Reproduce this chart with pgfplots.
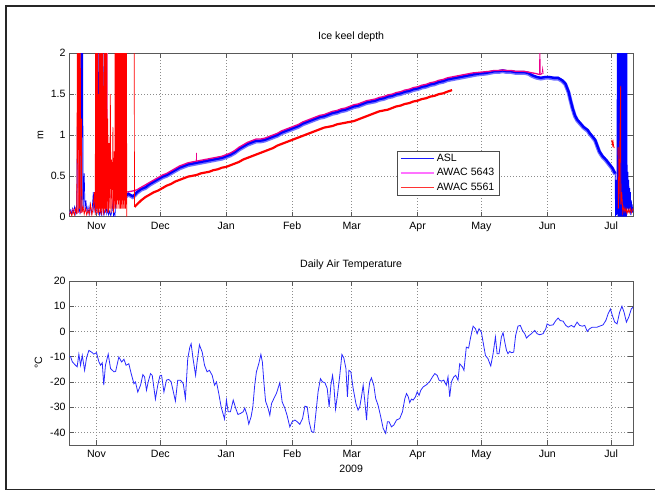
\documentclass[border=0pt]{standalone}
\usepackage{pgfplots}
\pgfplotsset{compat=1.18}
\usepackage{fontspec}
\setmainfont{Liberation Sans}
\definecolor{tblue}{rgb}{0.16,0.16,1}
\definecolor{legblue}{rgb}{0.1,0.1,1}
\definecolor{legmag}{rgb}{1,0.45,1}
\definecolor{legred}{rgb}{1,0.2,0.2}
\begin{document}
\fontsize{10.6bp}{12.5bp}\selectfont
\begin{tikzpicture}
\useasboundingbox (0,0) rectangle (655bp,491bp);
\fill[white] (0,0) rectangle (655bp,491bp);
\draw[black!85, line width=1.6bp] (657bp,485bp) -- (6bp,485bp) -- (6bp,1.5bp) -- (657bp,1.5bp);
\pgfplotsset{
 common/.style={
  scale only axis, width=563.7bp, xmin=-73.8, xmax=191.3,
  xtick={-61,-31,0,31,59,90,120,151,181},
  xticklabels={Nov,Dec,Jan,Feb,Mar,Apr,May,Jun,Jul},
  /pgf/number format/assume math mode=true,
  grid=major,
  major grid style={black!45, dash pattern=on 1bp off 2bp, line width=0.6bp},
  axis line style={black!65, line width=0.8bp},
  major tick length=5bp, tick style={black!65, line width=0.6bp},
  tick align=inside,
  unbounded coords=jump,
  xticklabel style={anchor=base, yshift=-12.8bp},
  title style={at={(0.5,1)}, anchor=base, yshift=7.8bp},
 }
}
% ---------------- top axis ----------------
\begin{axis}[common, at={(69.3bp,274.3bp)}, anchor=south west, height=163.4bp,
  ymin=0, ymax=2, ytick={0,0.5,1,1.5,2}, yticklabels={0,0.5,1,1.5,2},
  title={Ice keel depth},
  ylabel={m}, ylabel style={at={(axis description cs:-0.0511,0.5)}, anchor=center},
  legend style={at={(axis description cs:0.581,0.404)}, anchor=north west,
    draw=black!70, fill=white, inner xsep=3bp, inner ysep=1.5bp,
    row sep=1.2bp, cells={anchor=west}},
]
% ASL early noise and spikes
\addplot[blue, line width=0.7bp,
  legend image code/.code={\draw[draw=legblue, line width=0.8bp] (0bp,0bp) -- (33bp,0bp);}] coordinates {
(-73.8,0.02) (-73.3,0.08) (-72.8,0.03) (-72.3,0.10) (-71.8,0.05) (-71.3,0.12)
(-70.8,0.04) (-70.3,0.15) (-70.0,1.15) (-69.7,0.06) (-69.2,0.10) (-68.7,0.03)
(-68.3,3) (-68.0,0.05) (-67.6,3) (-67.3,0.10) (-66.8,0.53) (-66.4,0.08)
(-66.0,0.20) (-65.5,0.05) (-65.0,0.12) (-64.5,0.03) (-64.0,0.15) (-63.5,0.04)
(-63.0,0.10) (-62.5,0.3) (-62.2,0.05) (-61.8,0.2) (-61.4,0.06) (-61.0,3)
(-60.8,0.03) (-60.2,3) (-60.0,0.10) (-59.5,0.02) (-59.0,0.08) (-58.5,0.01) (-58.0,3)
(-57.7,0.06) (-57.5,0.02) (-57.0,0.09) (-56.5,0.2) (-56.2,0.04) (-55.8,0.08)
(-55.3,0.02) (-54.8,0.07) (-54.3,0.01) (-53.8,0.06) (-53.3,0.2) (-53.0,0.02)
(-52.8,0.05) (-52.3,0.01) (-51.8,0.30) (-51.5,0.25)
};
\addlegendentry{ASL}
% ASL main trend (fringe + core)
\addplot[forget plot, blue!55, line width=3.8bp] coordinates {
(-51.5,0.24) (-50,0.26) (-48,0.23) (-46,0.27) (-44,0.24) (-43,0.26) (-42,0.29)
(-40,0.33) (-38,0.35) (-36,0.39) (-34,0.42) (-32,0.45) (-30,0.48) (-28,0.50)
(-26,0.53) (-24,0.56) (-22,0.59) (-20,0.61) (-18,0.63) (-16,0.64) (-14,0.65)
(-12,0.66) (-10,0.67) (-8,0.68) (-6,0.69) (-4,0.70) (-2,0.71) (0,0.73) (2,0.75)
(4,0.78) (6,0.82) (8,0.85) (10,0.88) (12,0.90) (14,0.92) (16,0.92) (18,0.93)
(20,0.95) (22,0.97) (24,0.99) (26,1.02) (28,1.04) (30,1.06) (32,1.08) (34,1.10)
(36,1.13) (38,1.15) (40,1.17) (42,1.19) (44,1.21) (46,1.22) (48,1.24) (50,1.26)
(52,1.27) (54,1.29) (56,1.30) (58,1.32) (60,1.34) (62,1.35) (64,1.37) (66,1.39)
(68,1.40) (70,1.41) (72,1.43) (74,1.44) (76,1.46) (78,1.47) (80,1.49) (82,1.50)
(84,1.52) (86,1.53) (88,1.55) (90,1.56) (92,1.58) (94,1.59) (96,1.61) (98,1.62)
(100,1.64) (102,1.65) (104,1.67) (106,1.68) (108,1.69) (110,1.70) (112,1.71)
(114,1.72) (116,1.73) (118,1.74) (120,1.745) (122,1.75) (124,1.76) (126,1.77)
(128,1.77) (130,1.78) (132,1.77) (134,1.77) (136,1.76) (138,1.76) (140,1.76)
(142,1.75) (144,1.72) (146,1.70) (148,1.69) (150,1.70) (152,1.70) (154,1.69)
(156,1.69) (158,1.66) (159.5,1.62) (161,1.52) (162,1.41) (163,1.31) (164,1.23)
(165,1.18) (166,1.15) (168,1.09) (170,1.05) (171,1.01) (172,0.98) (173.5,0.93)
(174.5,0.86) (175.5,0.79) (177,0.73) (178.5,0.69) (180,0.64) (181.5,0.59) (182.9,0.52)
};
\addplot[forget plot, blue, line width=2.4bp] coordinates {
(-51.5,0.25) (-50,0.27) (-48,0.24) (-46,0.28) (-44,0.25) (-43,0.27) (-42,0.30)
(-40,0.34) (-38,0.36) (-36,0.40) (-34,0.43) (-32,0.46) (-30,0.49) (-28,0.51)
(-26,0.54) (-24,0.57) (-22,0.60) (-20,0.62) (-18,0.64) (-16,0.65) (-14,0.66)
(-12,0.67) (-10,0.68) (-8,0.69) (-6,0.70) (-4,0.71) (-2,0.72) (0,0.74) (2,0.76)
(4,0.79) (6,0.83) (8,0.86) (10,0.89) (12,0.91) (14,0.93) (16,0.93) (18,0.94)
(20,0.96) (22,0.98) (24,1.00) (26,1.03) (28,1.05) (30,1.07) (32,1.09) (34,1.11)
(36,1.14) (38,1.16) (40,1.18) (42,1.20) (44,1.22) (46,1.23) (48,1.25) (50,1.27)
(52,1.28) (54,1.30) (56,1.31) (58,1.33) (60,1.35) (62,1.36) (64,1.38) (66,1.40)
(68,1.41) (70,1.42) (72,1.44) (74,1.45) (76,1.47) (78,1.48) (80,1.50) (82,1.51)
(84,1.53) (86,1.54) (88,1.56) (90,1.57) (92,1.59) (94,1.60) (96,1.62) (98,1.63)
(100,1.65) (102,1.66) (104,1.68) (106,1.69) (108,1.70) (110,1.71) (112,1.72)
(114,1.73) (116,1.74) (118,1.75) (120,1.755) (122,1.76) (124,1.77) (126,1.78)
(128,1.78) (130,1.79) (132,1.78) (134,1.78) (136,1.77) (138,1.77) (140,1.77)
(142,1.76) (144,1.73) (146,1.71) (148,1.70) (150,1.71) (152,1.71) (154,1.70)
(156,1.70) (158,1.67) (159.5,1.63) (161,1.53) (162,1.42) (163,1.32) (164,1.24)
(165,1.19) (166,1.16) (168,1.10) (170,1.06) (171,1.02) (172,0.99) (173.5,0.94)
(174.5,0.87) (175.5,0.80) (177,0.74) (178.5,0.70) (180,0.65) (181.5,0.60) (182.9,0.53)
};
% ASL end of record
\addplot[forget plot, blue, line width=0.8bp] coordinates {
(182.9,0.53) (183.1,0) (183.4,0.45) (183.7,0.02) (184.0,3) (184.2,0) (184.4,3)
(184.6,0) (184.8,3) (185.0,0) (185.2,3) (185.4,0) (185.6,3) (185.8,0) (186.0,3)
(186.2,0) (186.4,3) (186.6,0) (186.8,3) (187.0,0) (187.2,3) (187.4,0) (187.6,3)
(187.8,0) (188.0,3) (188.2,0) (188.4,2.2) (188.5,0.7) (188.7,0.1) (188.9,0.55)
(189.1,0.05) (189.3,0.45) (189.5,0.1) (189.7,0.35) (189.9,0.05) (190.1,0.3)
(190.3,0.02) (190.5,0.2) (190.7,0.05) (190.9,0.15) (191.1,0.05) (191.3,0.12)
};
% AWAC 5643 early
\addplot[magenta!60, line width=0.6bp,
  legend image code/.code={\draw[draw=legmag, line width=1.8bp] (0bp,0bp) -- (33bp,0bp);}] coordinates {
(-73.8,0.05) (-72,0.1) (-70,0.05) (-69.6,1.25) (-69.4,0.05) (-66,0.08)
(-63,0.1) (-60.5,0.05) (-57,0.1) (-56.6,1.5) (-56.4,0.1) (-55.9,3) (-55.7,0.1)
(-54,0.3) (-53,0.08) (-52,0.3) (-51,0.30)
};
\addlegendentry{AWAC 5643}
% AWAC 5643 main
\addplot[forget plot, magenta, line width=1.3bp] coordinates {
(-51,0.30) (-49,0.31) (-47,0.30) (-45,0.31) (-43,0.32) (-42,0.33) (-40,0.36)
(-38,0.39) (-36,0.42) (-34,0.45) (-32,0.48) (-30,0.51) (-28,0.53) (-26,0.56)
(-24,0.59) (-22,0.62) (-20,0.64) (-18,0.66) (-16,0.67) (-14,0.68)
(-12,0.69) (-10,0.70) (-8,0.71) (-6,0.72) (-4,0.73) (-2,0.74)
(0,0.76) (2,0.78) (4,0.81) (6,0.85) (8,0.88) (10,0.91) (12,0.93) (14,0.95)
(16,0.95) (18,0.96) (20,0.98) (22,1.00) (24,1.02) (26,1.05) (28,1.07) (30,1.09)
(32,1.11) (34,1.13) (36,1.16) (38,1.18) (40,1.20) (42,1.22) (44,1.24) (46,1.25)
(48,1.27) (50,1.29) (52,1.30) (54,1.32) (56,1.33) (58,1.35) (60,1.37) (62,1.38)
(64,1.40) (66,1.42) (68,1.43) (70,1.44) (72,1.46) (74,1.47) (76,1.49) (78,1.50)
(80,1.52) (82,1.53) (84,1.55) (86,1.56) (88,1.58) (90,1.59) (92,1.61) (94,1.62)
(96,1.64) (98,1.65) (100,1.67) (102,1.68) (104,1.70) (106,1.71) (108,1.72)
(110,1.73) (112,1.74) (114,1.75) (116,1.76) (118,1.765) (120,1.77) (122,1.775)
(124,1.78) (126,1.79) (128,1.79) (130,1.795) (132,1.79) (134,1.79) (136,1.78)
(138,1.78) (140,1.78) (142,1.77) (144,1.76) (146,1.75) (147.3,1.74) (148.5,1.75)
};
% AWAC 5643 isolated spikes
\addplot[forget plot, magenta, line width=0.6bp] coordinates {
(-14.1,0.68) (-14,0.78) (-13.9,0.68) (20,nan) (147.3,1.74) (147.5,2.5) (147.7,1.76)
(148.5,1.75) (148.8,1.82) (149.1,1.75)
};
% AWAC 5561 early noise, spikes and block
\addplot[forget plot, red, line width=0.7bp] coordinates {
(-73.8,0.02) (-73.2,0.06) (-72.6,0.01) (-72,0.08) (-71.4,0.02) (-70.8,0.10) (-70.3,0.03)
(-69.9,3) (-69.6,0.05) (-69.3,3) (-69.0,0.1) (-68.7,3) (-68.4,0.04) (-68.1,1.2) (-67.8,0.05)
(-67.3,0.12) (-66.8,0.03) (-66.2,0.10) (-65.6,0.02) (-65,0.08) (-64.4,0.03) (-63.8,0.15)
(-63.2,0.02) (-62.6,0.10) (-62,0.3) (-61.6,0.02)
(-61.4,3) (-61.2,0.05) (-61.0,3) (-60.8,0.1) (-60.6,3) (-60.4,0.05) (-60.2,1.5) (-60.0,0.02)
(-59.8,3) (-59.6,0.1) (-59.4,3) (-59.2,0.05) (-59.0,2.0) (-58.8,0.02) (-58.6,3) (-58.4,0.1)
(-58.2,3) (-58.0,0.05) (-57.8,1.6) (-57.6,0.02) (-57.4,3) (-57.2,0.1) (-57.0,3) (-56.8,0.05)
(-56.6,3) (-56.4,0.1) (-56.2,2.2) (-56.0,0.05)
(-55.7,1.2) (-55.4,0.05) (-55.1,0.9) (-54.8,0.1) (-54.5,1.5) (-54.2,0.05) (-53.9,0.7)
(-53.6,0.1) (-53.3,1.1) (-53.0,0.05) (-52.7,0.8) (-52.4,0.1)
(-52.3,3) (-52.15,0.1) (-52.0,3) (-51.85,0.15) (-51.7,3) (-51.55,0.1) (-51.4,3)
(-51.25,0.2) (-51.1,3) (-50.95,0.1) (-50.8,3) (-50.65,0.15) (-50.5,3) (-50.35,0.1)
(-50.2,3) (-50.05,0.2) (-49.9,3) (-49.75,0.1) (-49.6,3) (-49.45,0.15) (-49.3,3)
(-49.15,0.1) (-49.0,3) (-48.85,0.2) (-48.7,3) (-48.55,0.1) (-48.4,3) (-48.25,0.15)
(-48.1,3) (-47.95,0.1) (-47.8,3) (-47.65,0.2) (-47.5,3) (-47.35,0.1) (-47.2,3)
(-47.05,0.15) (-46.9,3) (-46.8,0)
(-45,nan)
(-43.3,3) (-43.15,0.12)
};
% AWAC 5561 main
\addplot[red, line width=2.2bp,
  legend image code/.code={\draw[draw=legred, line width=0.8bp] (0bp,0bp) -- (33bp,0bp);}] coordinates {
(-43.1,0.12) (-42,0.15) (-40,0.20) (-38,0.24) (-36,0.27) (-34,0.30) (-32,0.32)
(-30,0.35) (-28,0.38) (-26,0.40) (-24,0.43) (-22,0.45) (-20,0.47) (-18,0.49)
(-16,0.50) (-14,0.51) (-12,0.53) (-10,0.54) (-8,0.55) (-6,0.57) (-4,0.58)
(-2,0.60) (0,0.61) (2,0.63) (4,0.65) (6,0.67) (8,0.70) (10,0.72) (12,0.74)
(14,0.76) (16,0.78) (18,0.80) (20,0.82) (22,0.84) (24,0.87) (26,0.89) (28,0.91)
(30,0.93) (32,0.95) (34,0.97) (36,0.99) (38,1.01) (40,1.03) (42,1.05) (44,1.07)
(46,1.09) (48,1.10) (50,1.11) (52,1.13) (54,1.14) (56,1.15) (58,1.16) (60,1.17)
(62,1.19) (64,1.21) (66,1.23) (68,1.25) (70,1.27) (72,1.29) (74,1.30) (76,1.31)
(78,1.33) (80,1.35) (82,1.36) (84,1.38) (86,1.39) (88,1.41) (90,1.42) (92,1.44)
(94,1.45) (96,1.47) (98,1.48) (100,1.50) (102,1.51) (104,1.53) (106.2,1.55)
};
\addlegendentry{AWAC 5561}
% AWAC 5561 end of record
\addplot[forget plot, red, line width=0.8bp] coordinates {
(181.3,0.94) (181.6,0.88) (181.9,0.92) (182.2,0.86) (182.5,0.84)
(183.5,nan)
(184.3,0.85) (184.4,0.1) (184.8,0.3) (185.5,1.6) (185.6,0.15) (186.0,0.3)
(186.5,0.05) (187.0,0.12) (187.5,0.06) (188.0,0.1) (188.5,0.04) (189.0,0.09)
(189.5,0.05) (190.0,0.1) (190.5,0.05) (191.3,0.1)
};
\end{axis}
% ---------------- bottom axis ----------------
\begin{axis}[common, at={(69.3bp,46bp)}, anchor=south west, height=164bp,
  ymin=-45, ymax=20, ytick={-40,-30,-20,-10,0,10,20},
  yticklabels={-40,-30,-20,-10,0,10,20},
  title={Daily Air Temperature},
  ylabel={°C}, ylabel style={at={(axis description cs:-0.0546,0.5)}, anchor=center},
  xlabel={2009}, xlabel style={at={(axis description cs:0.5,0)}, anchor=base, yshift=-27.1bp},
]
\addplot[tblue, line width=0.8bp] coordinates {
(-73.8,-9.8) (-73.2,-10) (-72.4,-12) (-70.9,-13.4) (-70.1,-14) (-69.3,-9) (-68.5,-13.4)
(-67.7,-9.5) (-66.6,-15.4) (-65.7,-10.5) (-64.6,-7.5) (-63,-8.4) (-62.3,-9) (-61,-8.4)
(-59.9,-12) (-59.1,-13.4) (-58.3,-12.4) (-57.6,-21.3) (-56.8,-13.4) (-55.5,-9)
(-54.4,-14.7) (-52.8,-16) (-52,-15.8) (-50.5,-10.1) (-49.2,-12.1) (-48.1,-11)
(-47.1,-13.4) (-45.8,-12.8) (-44.7,-16.7) (-43.4,-20.7) (-42.7,-20) (-41.6,-24)
(-40.3,-21.3) (-39.2,-17.1) (-38.4,-18) (-37.5,-23.3) (-36.7,-20) (-35.6,-16.7)
(-34.8,-17.4) (-33.3,-26.8) (-32.2,-21.3) (-31.2,-17.6) (-30.4,-17.4) (-29.3,-24)
(-28.1,-19.3) (-27,-19) (-25.9,-20) (-23.9,-27.6) (-22.8,-19.3) (-21.5,-19.3)
(-20.2,-20.7) (-19.2,-26.6) (-18.1,-10.8) (-17.1,-6.2) (-16.5,-4.9) (-15.6,-10.8)
(-14.4,-17.4) (-13.7,-12.1) (-12.6,-5.3) (-11.3,-8.2) (-10.2,-13.4) (-9,-16)
(-7.9,-15.4) (-6.6,-17.4) (-5.5,-21.3) (-4.6,-20) (-3.5,-24.6) (-2.4,-29.9)
(-0.8,-34.7) (0.1,-27.2) (0.9,-31.8) (2,-31.8) (3.3,-27.2) (4.4,-30.3) (5.5,-32.9)
(6.7,-32.5) (8,-31.8) (8.7,-30.3) (9.8,-33.2) (10.6,-36.7) (11.7,-33.8) (12.5,-30)
(13.4,-21.3) (14.2,-16) (15.3,-12.8) (16.3,-9.1) (17,-12.1) (17.7,-20) (18.5,-27.6)
(19.7,-30.5) (20.5,-33.2) (21.3,-28.6) (22.4,-26.6) (23.6,-24.6) (25.2,-20.3)
(26.3,-27.9) (27.6,-30.5) (28.6,-33.2) (29.9,-37.8) (31,-35.8) (32.3,-35.1)
(33.4,-35.8) (34.6,-36.8) (35.9,-34.5) (37,-29.6) (38.1,-29.9) (39,-35.8)
(40.1,-39.7) (41.2,-40) (42.4,-30.5) (43.2,-23.9) (44.3,-18.7) (45.3,-20)
(46.4,-20.3) (47.5,-22.6) (48.4,-29.9) (49.2,-21.3) (50,-17.4) (50.6,-21.3)
(51.4,-30.8) (52.3,-25.3) (53.4,-17.4) (54.4,-9.1) (55.3,-10.5) (56.3,-14.7)
(57,-25.9) (57.7,-15.4) (58.6,-16) (59.7,-22.6) (61,-28.6) (62,-31.2) (62.8,-29.9)
(63.6,-25.9) (64.4,-21.3) (65.2,-27.9) (66,-35.1) (66.7,-25.3) (67.5,-20)
(68.3,-18.4) (69.4,-21.3) (70.3,-26.6) (71.4,-29.2) (72.5,-33.2) (73.8,-38.4)
(75,-40.4) (75.8,-35.8) (76.6,-35.8) (77.7,-37.8) (78.8,-37.1) (80.1,-35.1)
(81.6,-34.5) (82.9,-31.8) (84,-26.6) (84.8,-24.6) (85.6,-25.9) (86.3,-28.2)
(87.1,-26.8) (87.9,-27.2) (89,-25.9) (89.8,-23.9) (90.7,-25.3) (91.5,-23.3)
(92.6,-22) (94.2,-21.1) (95.8,-19.7) (97,-18) (98.1,-16.7) (99.2,-17.4)
(100.1,-19.3) (101.2,-19.7) (102.3,-19.3) (103.5,-21.3) (104.3,-18) (105.1,-25.9)
(105.9,-20) (107,-18) (107.9,-17.4) (109,-19.3) (109.8,-12.8) (111.1,-14.1)
(111.8,-15.4) (112.9,-6.2) (114,-6.6) (114.8,-2.9) (116.1,2.1) (117.2,1.1)
(118,-0.9) (118.9,1.1) (120,-0.3) (120.8,-4.2) (121.9,-9.5) (123.1,-10.8)
(124.4,-13.7) (125.5,-8.8) (126.6,-2.2) (127.4,-8.8) (128.3,-8.8) (129.4,-2.2)
(130.2,-0.5) (131,-4.2) (131.8,-7.5) (132.5,-8.8) (133.3,-7.9) (134.1,-8.4)
(135.2,-8.2) (136.1,-1.6) (137.2,2.1) (138.3,2.4) (139.3,0.4) (140.4,-0.9)
(141.2,-2.6) (142.4,-1.6) (143.5,-0.9) (145.1,0.4) (146.2,-0.9) (147.4,-1.3)
(149,-0.9) (150.3,1.1) (150.9,3) (152.1,2.4) (153.7,2.6) (155,4.3) (156.1,5.3)
(157.1,4.3) (158.4,4.1) (159.7,2.4) (160.8,1.7) (162.3,2.4) (163.6,1.7) (165,3.7)
(166.2,2.4) (167.5,2.1) (168.6,2.4) (169.8,0) (170.9,1.1) (172.2,1.7) (173.3,1.7)
(174.4,1.7) (175.6,2.1) (177.2,2.6) (178.5,4.3) (179.6,7) (180.7,8.9) (181.6,6.3)
(182.7,3.7) (183.8,3) (185,7.6) (186.1,10) (187.1,7.6) (188.2,3.7) (189.3,5.7)
(190.5,8.9) (191.3,9.6)
};
\end{axis}
\end{tikzpicture}
\end{document}
